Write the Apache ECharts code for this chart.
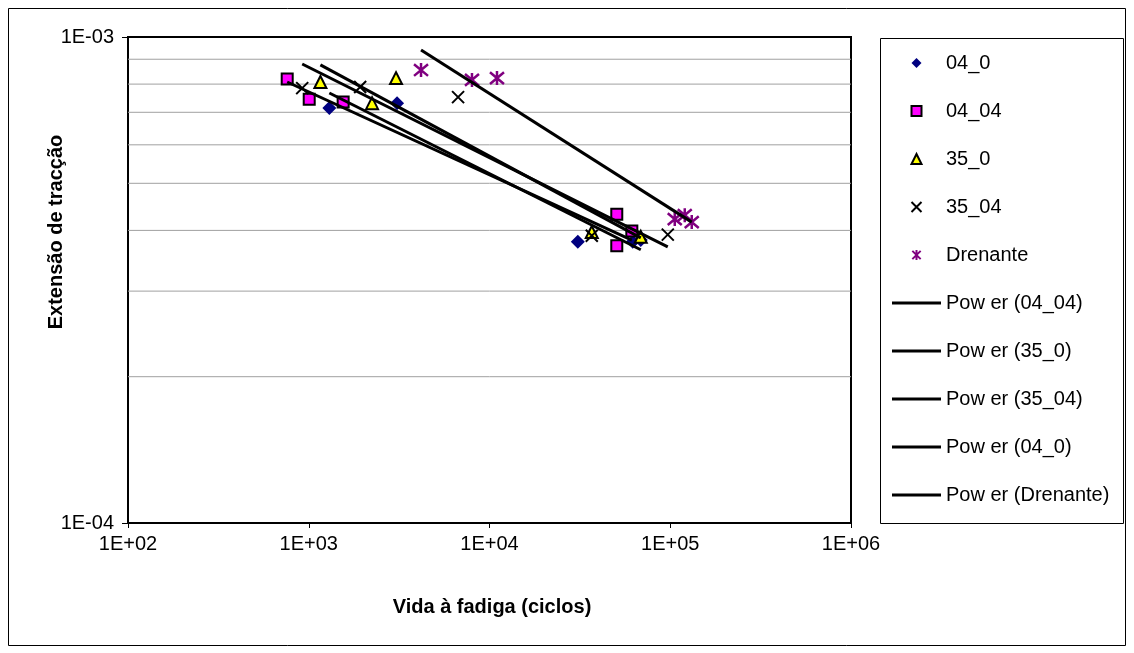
<!DOCTYPE html>
<html>
<head>
<meta charset="utf-8">
<script src="https://cdn.jsdelivr.net/npm/echarts@6/dist/echarts.min.js"></script>
<style>
  html, body { margin: 0; padding: 0; background: #fff; }
  #chart { width: 1134px; height: 653px; }
</style>
</head>
<body>
<div id="chart"></div>
<script>
// measured points: [cycles, strain]
const pts04_0 = [[1300, 7.14e-4], [3080, 7.31e-4], [30800, 3.79e-4], [62000, 3.79e-4], [68700, 3.82e-4]]
const pts04_04 = [[760, 8.20e-4], [1006, 7.45e-4], [1550, 7.35e-4], [50600, 4.32e-4], [50600, 3.72e-4], [61300, 3.99e-4]]
const pts35_0 = [[1160, 8.08e-4], [2240, 7.31e-4], [3040, 8.23e-4], [36800, 3.97e-4], [68700, 3.88e-4]]
const pts35_04 = [[920, 7.85e-4], [1925, 7.89e-4], [6700, 7.52e-4], [36800, 3.90e-4], [96900, 3.92e-4]]
const ptsDrenante = [[4180, 8.55e-4], [8000, 8.16e-4], [11000, 8.23e-4], [105900, 4.22e-4], [120300, 4.30e-4], [131500, 4.16e-4]]

// power trend lines, end points
const trend04_04 = [[760, 8.08e-4], [61300, 3.82e-4]]
const trend35_0 = [[1160, 8.76e-4], [68700, 3.86e-4]]
const trend35_04 = [[920, 8.80e-4], [96900, 3.70e-4]]
const trend04_0 = [[1300, 7.67e-4], [68700, 3.65e-4]]
const trendDrenante = [[4180, 9.40e-4], [131500, 4.16e-4]]

const xRange = [100, 1e6]
const yRange = [1e-4, 1e-3]
const gridValues = [2e-4, 3e-4, 4e-4, 5e-4, 6e-4, 7e-4, 8e-4, 9e-4]
const markerNames = ['04_0', '04_04', '35_0', '35_04', 'Drenante']
const trendNames = ['Pow er (04_04)', 'Pow er (35_0)', 'Pow er (35_04)', 'Pow er (04_0)', 'Pow er (Drenante)']

const FONT = 'Arial, "Liberation Sans", sans-serif'
const DIAMOND = 'path://M5,0L10,5L5,10L0,5Z'
const SQUARE = 'path://M0,0L10,0L10,10L0,10Z'
const TRIANGLE = 'path://M5,0L10,10L0,10Z'
const CROSS = 'path://M0,0L10,10M10,0L0,10'
const STAR = 'path://M0,0L10,10M10,0L0,10M5,-1L5,11'
const LEGEND_LINE = 'path://M0,0L49,0L49,3L0,3Z'

function sciLabel(v) {
  const e = Math.round(Math.log10(v))
  return '1E' + (e < 0 ? '-' : '+') + String(Math.abs(e)).padStart(2, '0')
}

function trendSeries(name, data) {
  return {
    name: name,
    type: 'line',
    data: data,
    symbol: 'none',
    z: 5,
    itemStyle: { color: '#000' },
    lineStyle: { color: '#000', width: 3 }
  }
}

function gridSeries(v) {
  return {
    type: 'line',
    data: [[xRange[0], v], [xRange[1], v]],
    symbol: 'none',
    silent: true,
    z: 1,
    lineStyle: { color: '#a0a0a0', width: 1 }
  }
}

const chart = echarts.init(document.getElementById('chart'))
chart.setOption({
  animation: false,
  textStyle: { fontFamily: FONT },
  grid: {
    left: 128, top: 37, right: 283, bottom: 130,
    show: true, borderColor: '#000', borderWidth: 2
  },
  xAxis: {
    type: 'log',
    logBase: 10,
    min: xRange[0],
    max: xRange[1],
    axisLine: { lineStyle: { color: '#000', width: 2 } },
    axisTick: { show: true, length: 5, lineStyle: { color: '#000', width: 1 } },
    axisLabel: { color: '#000', fontSize: 20, margin: 11, formatter: sciLabel },
    splitLine: { show: false },
    minorTick: { show: false }
  },
  yAxis: {
    type: 'log',
    logBase: 10,
    min: yRange[0],
    max: yRange[1],
    axisLine: { show: true, lineStyle: { color: '#000', width: 2 } },
    axisTick: { show: true, length: 6, lineStyle: { color: '#000', width: 1 } },
    axisLabel: { color: '#000', fontSize: 20, margin: 14, formatter: sciLabel },
    splitLine: { show: false }
  },
  legend: {
    orient: 'vertical',
    left: 892,
    top: 53,
    data: markerNames.map(n => ({ name: n }))
      .concat(trendNames.map(n => ({ name: n, icon: LEGEND_LINE }))),
    itemWidth: 49,
    itemHeight: 10,
    itemGap: 28,
    padding: 0,
    textStyle: { color: '#000', fontSize: 20, lineHeight: 18, fontFamily: FONT }
  },
  graphic: [
    { type: 'rect', shape: { x: 8.5, y: 8.5, width: 1117, height: 637 },
      style: { fill: 'none', stroke: '#000', lineWidth: 1 }, silent: true, z: -10 },
    { type: 'rect', shape: { x: 880.5, y: 38.5, width: 243, height: 485 },
      style: { fill: 'none', stroke: '#000', lineWidth: 1 }, silent: true },
    { type: 'text', x: 56, y: 232, rotation: Math.PI / 2,
      style: { text: 'Extensão de tracção', font: 'bold 20px ' + FONT, fill: '#000',
        align: 'center', verticalAlign: 'middle' } },
    { type: 'text', x: 492, y: 607,
      style: { text: 'Vida à fadiga (ciclos)', font: 'bold 20px ' + FONT, fill: '#000',
        align: 'center', verticalAlign: 'middle' } }
  ],
  series: gridValues.map(gridSeries).concat([
    {
      name: '04_0', type: 'scatter', data: pts04_0, z: 3,
      symbol: DIAMOND, symbolSize: 14,
      itemStyle: { color: '#000080', opacity: 1 }
    },
    {
      name: '04_04', type: 'scatter', data: pts04_04, z: 3,
      symbol: SQUARE, symbolSize: 11,
      itemStyle: { color: '#ff00ff', borderColor: '#000', borderWidth: 2, opacity: 1 }
    },
    {
      name: '35_0', type: 'scatter', data: pts35_0, z: 3,
      symbol: TRIANGLE, symbolSize: 12,
      itemStyle: { color: '#ffff00', borderColor: '#000', borderWidth: 2, opacity: 1 }
    },
    {
      name: '35_04', type: 'scatter', data: pts35_04, z: 3,
      symbol: CROSS, symbolSize: 12,
      itemStyle: { color: '#000', borderColor: '#000', borderWidth: 2, opacity: 1 }
    },
    {
      name: 'Drenante', type: 'scatter', data: ptsDrenante, z: 3,
      symbol: STAR, symbolSize: 14,
      itemStyle: { color: '#800080', borderColor: '#800080', borderWidth: 2.5, opacity: 1 }
    },
    trendSeries(trendNames[0], trend04_04),
    trendSeries(trendNames[1], trend35_0),
    trendSeries(trendNames[2], trend35_04),
    trendSeries(trendNames[3], trend04_0),
    trendSeries(trendNames[4], trendDrenante)
  ])
})
</script>
</body>
</html>
